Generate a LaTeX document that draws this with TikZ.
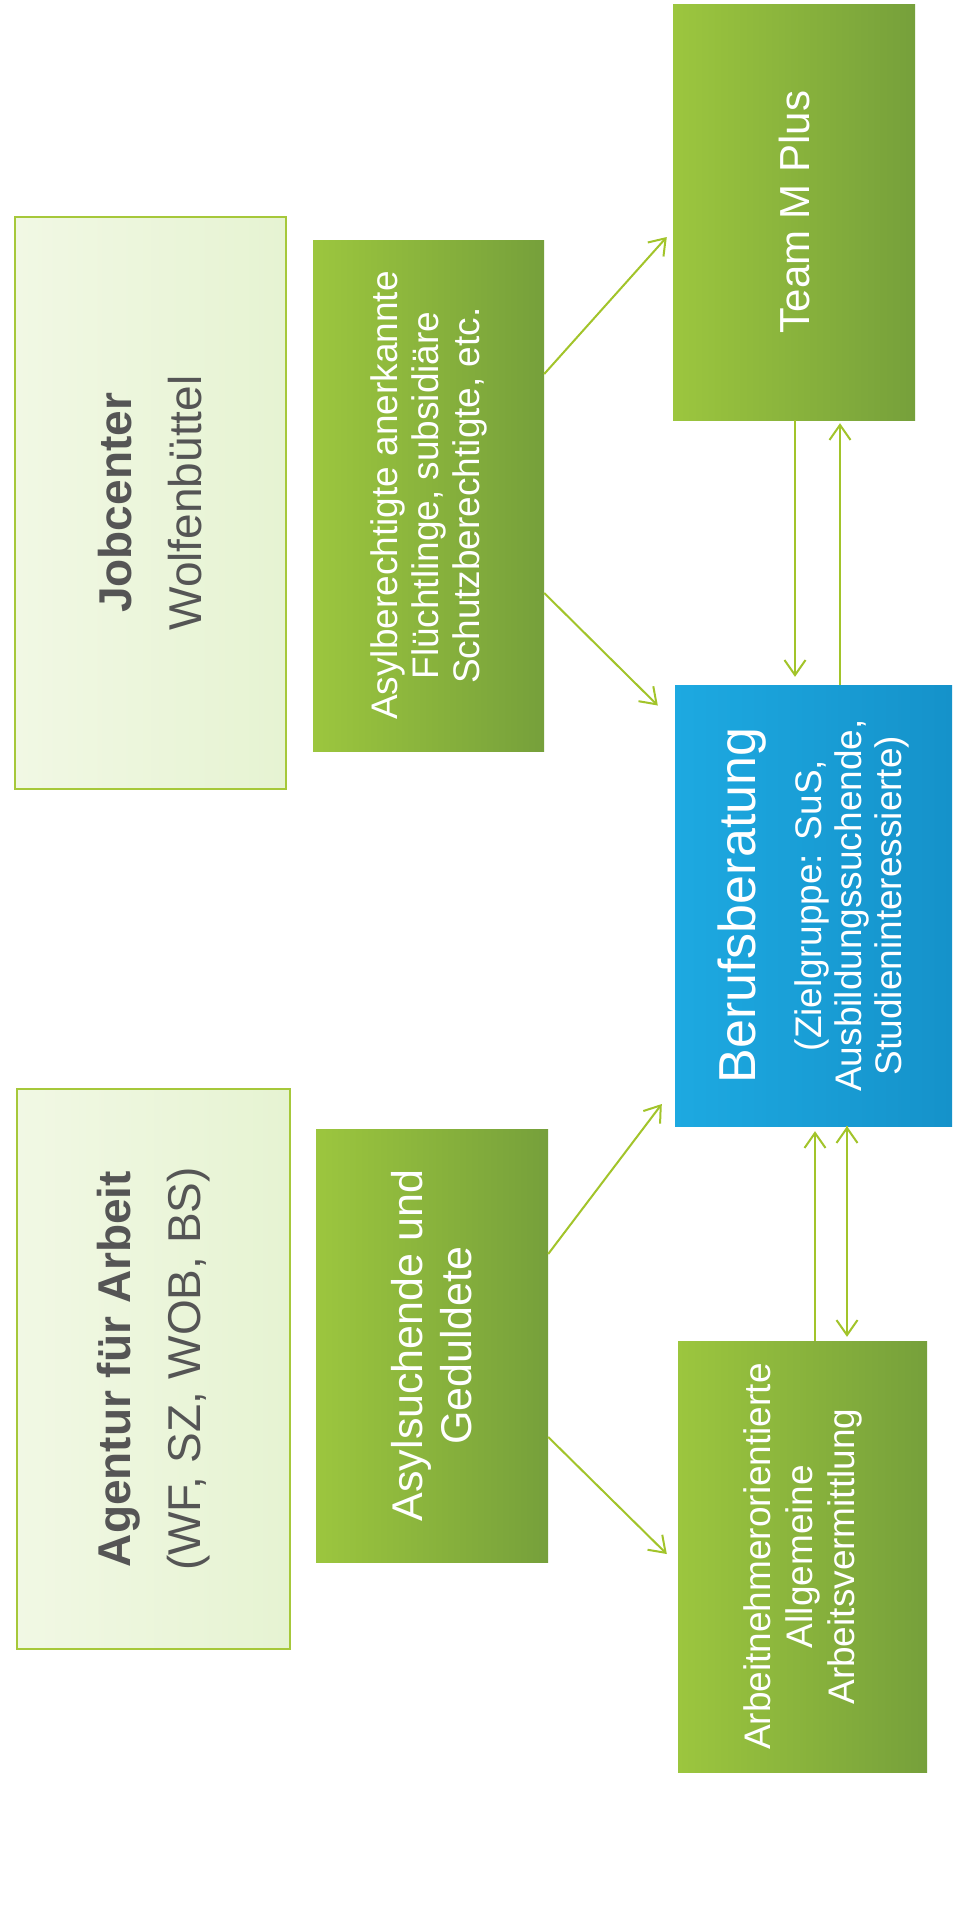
\documentclass[tikz,border=0pt]{standalone}
\usepackage{fontspec}
\setmainfont{Liberation Sans}
\usepackage{graphicx}
\usetikzlibrary{arrows.meta}
\definecolor{boxline}{HTML}{A6C83A}
\definecolor{paleleft}{HTML}{F1F8E4}
\definecolor{paleright}{HTML}{E6F3D2}
\definecolor{textgray}{HTML}{555555}
\definecolor{grassleft}{HTML}{9CC63E}
\definecolor{grassright}{HTML}{76A03B}
\definecolor{skyleft}{HTML}{1DA9E1}
\definecolor{skyright}{HTML}{1592CA}
\definecolor{arrowgreen}{HTML}{A2C42A}
\tikzstyle{lightbox}=[%
      rectangle, draw=boxline, line width=2pt, left color=paleleft, right color=paleright,
      text=textgray, inner sep=0pt
]
\tikzstyle{greenbox}=[%
      rectangle, left color=grassleft, right color=grassright,
      text=white, inner sep=0pt
]
\tikzstyle{bluebox}=[%
      rectangle, left color=skyleft, right color=skyright,
      text=white, inner sep=0pt
]
\newcommand{\sidetext}[2]{\rotatebox{90}{\parbox{#1}{\centering #2}}}
\begin{document}
\begin{tikzpicture}[x=1pt, y=-1pt,
    arr/.style={draw=arrowgreen, line width=2pt, -{Straight Barb[length=15pt,width=21pt]}}
  ]
    \useasboundingbox[fill=white] (0,0) rectangle (953,1909);

    \node[lightbox, minimum width=271pt, minimum height=572pt] (jobcenter) at (150.5,503)
      {\sidetext{540pt}{\fontsize{46pt}{70pt}\selectfont\textbf{Jobcenter}\\Wolfenbüttel}};
    \node[lightbox, minimum width=273pt, minimum height=560pt] (agentur) at (153.5,1369)
      {\sidetext{530pt}{\fontsize{46pt}{70pt}\selectfont\textbf{Agentur für Arbeit}\\(WF, SZ, WOB, BS)}};
    \node[greenbox, minimum width=231pt, minimum height=511pt] (asylber) at (428.5,495.5)
      {\sidetext{500pt}{\fontsize{37pt}{41pt}\selectfont Asylberechtigte anerkannte\\Flüchtlinge, subsidiäre\\Schutzberechtigte, etc.}};
    \node[greenbox, minimum width=232pt, minimum height=433pt] (asylsuch) at (432,1345.5)
      {\sidetext{420pt}{\fontsize{43pt}{49pt}\selectfont Asylsuchende und\\Geduldete}};
    \node[greenbox, minimum width=242pt, minimum height=416pt] (team) at (794,212)
      {\sidetext{400pt}{\fontsize{42pt}{48pt}\selectfont Team M Plus}};
    \node[bluebox, minimum width=277pt, minimum height=441pt] (beruf) at (813.5,905.5)
      {\sidetext{430pt}{\fontsize{52pt}{60pt}\selectfont Berufsberatung\par
        \vspace{26pt}\fontsize{37pt}{40pt}\selectfont (Zielgruppe: SuS,\\Ausbildungssuchende,\\Studieninteressierte)}};
    \node[greenbox, minimum width=249pt, minimum height=431pt] (vermittlung) at (802.5,1556.5)
      {\sidetext{420pt}{\fontsize{37pt}{42pt}\selectfont Arbeitnehmerorientierte\\Allgemeine\\Arbeitsvermittlung}};

    \path[arr] ([yshift=121.5pt]asylber.east) edge ([xshift=-6pt,yshift=-25pt]team.west)
          ([yshift=-97.5pt]asylber.east) edge ([xshift=-17pt,yshift=200pt]beruf.west)
          ([yshift=91.5pt]asylsuch.east) edge ([xshift=-13pt,yshift=-198.5pt]beruf.west)
          ([yshift=-91.5pt]asylsuch.east) edge ([xshift=-11pt,yshift=2.5pt]vermittlung.west)
          ([xshift=1pt]team.south) edge ([xshift=-18.5pt,yshift=8pt]beruf.north)
          ([xshift=26.5pt]beruf.north) edge ([xshift=46pt,yshift=-3pt]team.south)
          ([xshift=12.5pt]vermittlung.north) edge ([xshift=1.5pt,yshift=-5pt]beruf.south)
          ([xshift=33.5pt]beruf.south) edge ([xshift=44.5pt,yshift=4pt]vermittlung.north)
    ;

  \end{tikzpicture}
\end{document}
